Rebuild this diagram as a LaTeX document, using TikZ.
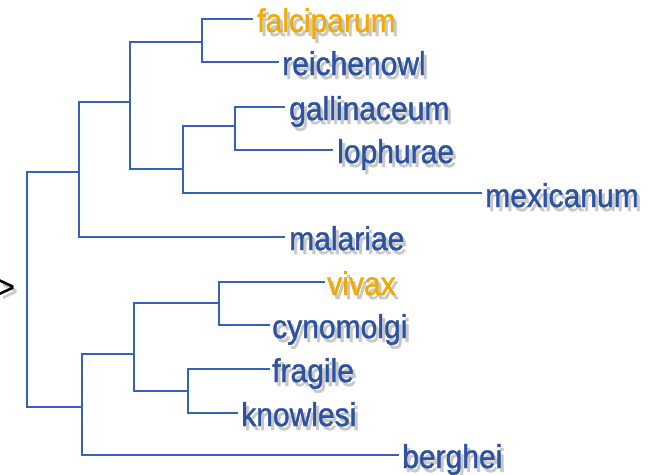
\documentclass[tikz,border=0pt]{standalone}
\usepackage{fontspec}
\setmainfont{Liberation Sans}[FakeStretch=0.91, FakeBold=1.2]
\definecolor{treeblue}{HTML}{3462BC}
\definecolor{labblue}{HTML}{2D52A2}
\definecolor{laborange}{HTML}{F2AA00}
\definecolor{shadowgray}{HTML}{C8C8C8}
\tikzset{
  branch/.style={draw=treeblue, line width=2pt},
  leaflab/.style={anchor=base west, inner sep=0pt, font=\fontsize{33}{38}\selectfont},
  shadowlab/.style={leaflab, text=shadowgray},
}
\newcommand{\leafnode}[5]{%
  \node[shadowlab] (#1s) at (#2+3,#3+4) {#4};
  \node[leaflab, text=#5] (#1) at (#2,#3) {#4};
}
\begin{document}
\begin{tikzpicture}[x=1pt,y=-1pt]
\useasboundingbox (0,0) rectangle (648,474);
% internal nodes
\coordinate (R) at (27,290);
\coordinate (E) at (79,172);
\coordinate (B) at (130,102);
\coordinate (A) at (202,42);
\coordinate (D) at (183,169);
\coordinate (C) at (235,126);
\coordinate (F) at (82,407);
\coordinate (G) at (134,354);
\coordinate (H) at (219,303);
\coordinate (I) at (188,391);
% leaf tips
\coordinate (tfalc) at (253,19);
\coordinate (treich) at (279,62);
\coordinate (tgall) at (285,107);
\coordinate (tloph) at (333,150);
\coordinate (tmex) at (482,193);
\coordinate (tmal) at (285,237);
\coordinate (tviv) at (325,282);
\coordinate (tcyn) at (270,325);
\coordinate (tfrag) at (270,369);
\coordinate (tknow) at (238,413);
\coordinate (tberg) at (399,455);
% labels
\leafnode{falc}{257}{32}{falciparum}{laborange}
\leafnode{reich}{282}{75}{reichenowl}{labblue}
\leafnode{gall}{289}{120}{gallinaceum}{labblue}
\leafnode{loph}{337}{163}{lophurae}{labblue}
\leafnode{mex}{485}{207}{mexicanum}{labblue}
\leafnode{mal}{289}{250}{malariae}{labblue}
\leafnode{viv}{327}{295}{vivax}{laborange}
\leafnode{cyn}{272}{338}{cynomolgi}{labblue}
\leafnode{frag}{272}{382}{fragile}{labblue}
\leafnode{know}{241}{426}{knowlesi}{labblue}
\leafnode{berg}{402}{468}{berghei}{labblue}
\node[leaflab, text=shadowgray, font=\fontsize{30}{36}\selectfont] (gts) at (1.5,301) {>};
\node[leaflab, text=black, font=\fontsize{30}{36}\selectfont] (gt) at (-1.5,297) {>};
% branches
\draw[branch] (R) |- (E);
\draw[branch] (R) |- (F);
\draw[branch] (E) |- (B);
\draw[branch] (E) |- (tmal);
\draw[branch] (B) |- (A);
\draw[branch] (B) |- (D);
\draw[branch] (A) |- (tfalc);
\draw[branch] (A) |- (treich);
\draw[branch] (D) |- (C);
\draw[branch] (D) |- (tmex);
\draw[branch] (C) |- (tgall);
\draw[branch] (C) |- (tloph);
\draw[branch] (F) |- (G);
\draw[branch] (F) |- (tberg);
\draw[branch] (G) |- (H);
\draw[branch] (G) |- (I);
\draw[branch] (H) |- (tviv);
\draw[branch] (H) |- (tcyn);
\draw[branch] (I) |- (tfrag);
\draw[branch] (I) |- (tknow);
\end{tikzpicture}
\end{document}
